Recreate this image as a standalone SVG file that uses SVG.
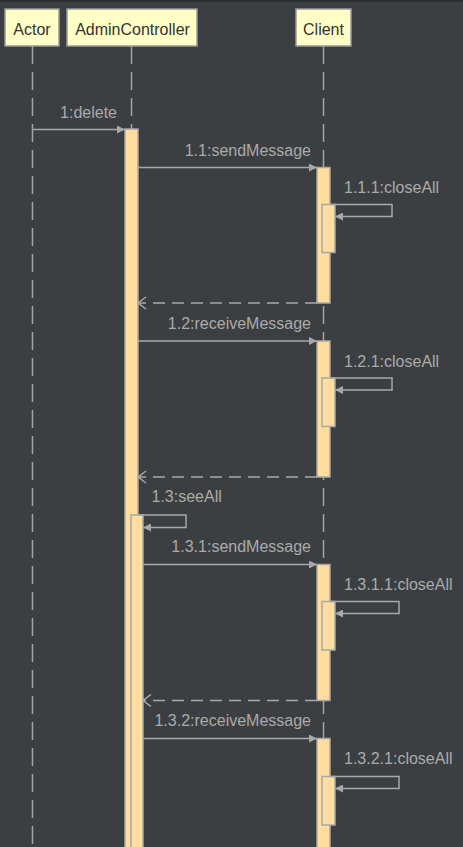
<svg xmlns="http://www.w3.org/2000/svg" width="463" height="847" viewBox="0 0 463 847">
  <style>
    .bg { fill: #3c3f41; }
    .head rect { fill: #ffffc6; stroke: #9a9a9a; stroke-width: 1.5; }
    .head text { font-family: "Liberation Sans", Arial, sans-serif; font-size: 16px; fill: #333333; text-anchor: middle; }
    .life { stroke: #a3a3a3; stroke-width: 1.5; stroke-dasharray: 18 8; fill: none; }
    .act { fill: #ffdd9e; stroke: #a8a8a8; stroke-width: 1.5; }
    .msg { stroke: #a8a8a8; stroke-width: 1.5; fill: none; }
    .ret { stroke: #a8a8a8; stroke-width: 1.5; fill: none; stroke-dasharray: 12 7; }
    .lbl { font-family: "Liberation Sans", Arial, sans-serif; font-size: 16px; fill: #aaaaaa; }
    .end { text-anchor: end; }
  </style>
  <defs>
    <marker id="solid" viewBox="0 0 8 8" refX="8" refY="4" markerWidth="8" markerHeight="8" markerUnits="userSpaceOnUse" orient="auto">
      <path d="M0,0 L8,4 L0,8 z" fill="#a8a8a8"/>
    </marker>
    <marker id="open" viewBox="0 0 10 14" refX="9" refY="7" markerWidth="10" markerHeight="14" markerUnits="userSpaceOnUse" orient="auto">
      <path d="M1,1 L9,7 L1,13" fill="none" stroke="#a8a8a8" stroke-width="1.5"/>
    </marker>
  </defs>

  <rect class="bg" x="0" y="0" width="463" height="847"/>
  <rect x="0" y="0" width="463" height="2" fill="#2b2d30"/>

  <!-- lifelines -->
  <g id="lifelines">
    <line class="life" x1="32.5" y1="46" x2="32.5" y2="847"/>
    <line class="life" x1="131.5" y1="46" x2="131.5" y2="847"/>
    <line class="life" x1="323.5" y1="46" x2="323.5" y2="847"/>
  </g>

  <!-- participants -->
  <g id="actor" class="head">
    <rect x="5" y="9" width="54" height="37"/>
    <text x="32" y="35">Actor</text>
  </g>
  <g id="adminController" class="head">
    <rect x="67" y="9" width="130" height="37"/>
    <text x="132.5" y="35">AdminController</text>
  </g>
  <g id="client" class="head">
    <rect x="296" y="9" width="55" height="37"/>
    <text x="323.5" y="35">Client</text>
  </g>

  <!-- activation bars -->
  <g id="activations">
    <rect class="act" x="125" y="129" width="13" height="725"/>
    <rect class="act" x="131" y="515" width="12" height="340"/>

    <rect class="act" x="317" y="167.5" width="13" height="135.5"/>
    <rect class="act" x="322" y="204.5" width="13" height="48"/>

    <rect class="act" x="317" y="341" width="13" height="136"/>
    <rect class="act" x="322" y="378" width="13" height="48.5"/>

    <rect class="act" x="317" y="564.5" width="13" height="136"/>
    <rect class="act" x="322" y="601.5" width="13" height="48.5"/>

    <rect class="act" x="317" y="738.5" width="13" height="116"/>
    <rect class="act" x="322" y="776.5" width="13" height="48.5"/>
  </g>

  <!-- messages -->
  <g id="connectors">
    <line class="msg" x1="33" y1="129.5" x2="125" y2="129.5" marker-end="url(#solid)"/>

    <line class="msg" x1="138" y1="167.5" x2="317" y2="167.5" marker-end="url(#solid)"/>
    <polyline class="msg" points="330,204.5 392,204.5 392,216.5 335,216.5" marker-end="url(#solid)"/>
    <line class="ret" x1="317" y1="303" x2="138" y2="303" marker-end="url(#open)"/>

    <line class="msg" x1="138" y1="341" x2="317" y2="341" marker-end="url(#solid)"/>
    <polyline class="msg" points="330,378 392,378 392,390 335,390" marker-end="url(#solid)"/>
    <line class="ret" x1="317" y1="477" x2="138" y2="477" marker-end="url(#open)"/>

    <polyline class="msg" points="138,515 186,515 186,527.5 143,527.5" marker-end="url(#solid)"/>

    <line class="msg" x1="143" y1="564.5" x2="317" y2="564.5" marker-end="url(#solid)"/>
    <polyline class="msg" points="330,601.5 399,601.5 399,613.5 335,613.5" marker-end="url(#solid)"/>
    <line class="ret" x1="317" y1="700.5" x2="143" y2="700.5" marker-end="url(#open)"/>

    <line class="msg" x1="143" y1="738.5" x2="317" y2="738.5" marker-end="url(#solid)"/>
    <polyline class="msg" points="330,776.5 399,776.5 399,788.5 335,788.5" marker-end="url(#solid)"/>
  </g>

  <!-- message labels -->
  <g id="labels">
    <text class="lbl end" x="117" y="118">1:delete</text>
    <text class="lbl end" x="311" y="155.5">1.1:sendMessage</text>
    <text class="lbl" x="344" y="193">1.1.1:closeAll</text>
    <text class="lbl end" x="311" y="329">1.2:receiveMessage</text>
    <text class="lbl" x="344" y="366.5">1.2.1:closeAll</text>
    <text class="lbl" x="151.5" y="502">1.3:seeAll</text>
    <text class="lbl end" x="311" y="552">1.3.1:sendMessage</text>
    <text class="lbl" x="344" y="589.5">1.3.1.1:closeAll</text>
    <text class="lbl end" x="311" y="726">1.3.2:receiveMessage</text>
    <text class="lbl" x="344" y="764">1.3.2.1:closeAll</text>
  </g>
</svg>
